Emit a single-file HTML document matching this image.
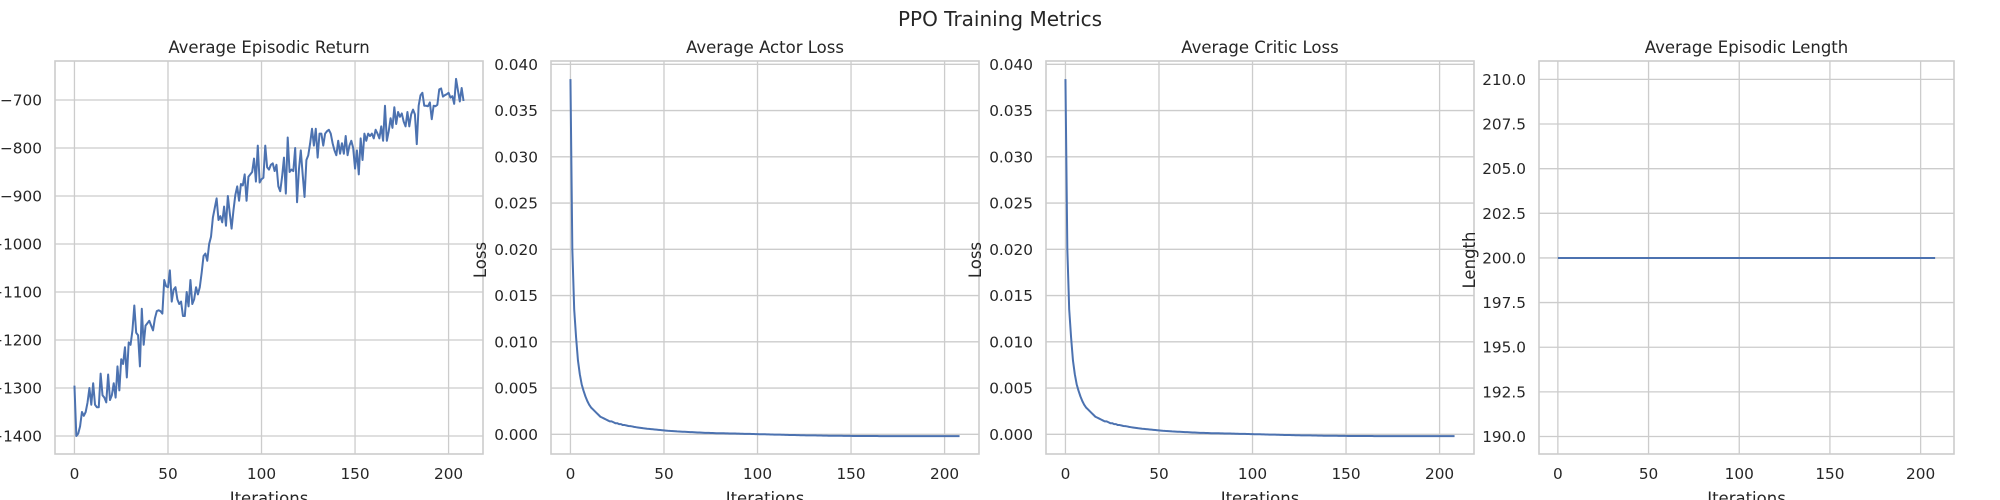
<!DOCTYPE html>
<html><head><meta charset="utf-8"><style>
html,body{margin:0;padding:0;background:#fff;}
svg{display:block;font-family:"DejaVu Sans","Liberation Sans",sans-serif;}
</style></head><body>
<svg id="fig" width="2000" height="500" viewBox="0 0 2000 500" xmlns="http://www.w3.org/2000/svg">
<rect x="0" y="0" width="2000" height="500" fill="#fff"/>
<text x="1000" y="26" text-anchor="middle" font-size="20" fill="#262626">PPO Training Metrics</text>
</svg>
<script>
const xTicks = [0, 50, 100, 150, 200];
const returnValues = [-1295,-1400,-1395,-1380,-1350,-1358,-1350,-1330,-1300,-1335,-1290,-1335,-1340,-1340,-1270,-1315,-1320,-1330,-1272,-1325,-1315,-1290,-1320,-1255,-1305,-1240,-1250,-1215,-1278,-1205,-1210,-1180,-1128,-1185,-1190,-1255,-1135,-1210,-1170,-1165,-1160,-1170,-1180,-1155,-1140,-1138,-1140,-1145,-1075,-1088,-1090,-1055,-1120,-1095,-1090,-1115,-1125,-1120,-1150,-1150,-1100,-1130,-1075,-1125,-1115,-1090,-1105,-1090,-1060,-1025,-1020,-1035,-1000,-985,-945,-925,-905,-950,-942,-955,-922,-962,-900,-935,-968,-930,-898,-880,-910,-875,-878,-855,-910,-860,-855,-850,-822,-870,-795,-872,-865,-862,-795,-840,-845,-835,-832,-848,-835,-880,-890,-860,-820,-895,-778,-850,-845,-848,-800,-913,-845,-805,-855,-902,-825,-815,-790,-760,-795,-760,-820,-770,-770,-795,-770,-765,-762,-770,-790,-805,-815,-785,-812,-790,-812,-775,-815,-795,-785,-800,-843,-805,-855,-780,-825,-770,-785,-770,-775,-770,-780,-762,-770,-780,-755,-785,-712,-785,-765,-738,-758,-715,-750,-725,-735,-728,-745,-755,-725,-755,-730,-720,-730,-792,-712,-690,-685,-712,-712,-713,-705,-740,-712,-713,-710,-678,-676,-693,-690,-688,-685,-695,-692,-708,-656,-680,-703,-675,-702];
const returnTicks = [-1400,-1300,-1200,-1100,-1000,-900,-800,-700];
const actorLossRaw = [0.0384,0.0200,0.0135,0.0105,0.0080,0.0065,0.0054,0.0047,0.0041,0.0036,0.0032,0.0029,0.0027,0.0025,0.0023,0.0021,0.0019,0.0018,0.0017,0.0016,0.0015,0.0014,0.0014,0.0013,0.0012,0.0012,0.0011,0.0011,0.0010,0.0010,0.00095,0.0009,0.00088,0.00085,0.0008,0.00077,0.00074,0.00071,0.00068,0.00065,0.00063,0.0006,0.00058,0.00056,0.00054,0.00052,0.0005,0.00048,0.00046,0.00044,0.00042,0.0004,0.00038,0.00037,0.00035,0.00034,0.00033,0.00031,0.0003,0.00029,0.00028,0.00027,0.00026,0.00025,0.00024,0.00023,0.00022,0.00021,0.0002,0.00019,0.00018,0.00017,0.00016,0.00016,0.00015,0.00014,0.00014,0.00013,0.00012,0.00012,0.00011,0.00012,0.00011,0.0001,0.0001,0.00009,0.00009,0.00008,0.00008,0.00007,0.00007,0.00006,0.00006,0.00005,0.00005,0.00004,0.00004,0.00003,0.00003,0.00002,0.00002,0.00001,0.00001,0,0,-0.00001,-0.00001,-0.00002,-0.00002,-0.00003,-0.00003,-0.00004,-0.00004,-0.00005,-0.00005,-0.00006,-0.00006,-0.00007,-0.00007,-0.00008,-0.00008,-0.00009,-0.00009,-0.0001,-0.0001,-0.0001,-0.00011,-0.00011,-0.00011,-0.00012,-0.00012,-0.00012,-0.00013,-0.00013,-0.00013,-0.00014,-0.00014,-0.00014,-0.00015,-0.00015,-0.00015,-0.00015,-0.00016,-0.00016,-0.00016,-0.00016,-0.00017,-0.00017,-0.00017,-0.00017,-0.00017,-0.00018,-0.00018,-0.00018,-0.00018,-0.00018,-0.00018,-0.00019,-0.00019,-0.00019,-0.00019,-0.00019,-0.00019,-0.00019,-0.00019,-0.0002,-0.0002,-0.0002,-0.0002,-0.0002,-0.0002,-0.0002,-0.0002,-0.0002,-0.0002,-0.0002,-0.0002,-0.0002,-0.0002,-0.0002,-0.0002,-0.0002,-0.0002,-0.0002,-0.0002,-0.0002,-0.0002,-0.0002,-0.0002,-0.0002,-0.0002,-0.0002,-0.0002,-0.0002,-0.0002,-0.0002,-0.0002,-0.0002,-0.0002,-0.0002,-0.0002,-0.0002,-0.0002,-0.0002,-0.0002,-0.0002,-0.0002,-0.0002,-0.0002,-0.0002,-0.0002,-0.0002,-0.0002,-0.0002,-0.0002,-0.0002];
const actorLoss = actorLossRaw.slice(0, 209);
const criticLoss = actorLoss.slice();
const lossTicks = [0.000,0.005,0.010,0.015,0.020,0.025,0.030,0.035,0.040];
const lengthValues = new Array(209).fill(200);
const lengthTicks = [190.0,192.5,195.0,197.5,200.0,202.5,205.0,207.5,210.0];

const NS = "http://www.w3.org/2000/svg";
const svg = document.getElementById('fig');
function mk(tag, attrs, parent) {
  const e = document.createElementNS(NS, tag);
  for (const k in attrs) e.setAttribute(k, attrs[k]);
  (parent || svg).appendChild(e);
  return e;
}
const TOP = 61, BOT = 454;
const panels = [
  {key:'return', title:'Average Episodic Return', L:55, R:483, yMin:-1437.5, yMax:-618.75, vals:returnValues, ticks:returnTicks, fmt:v=>String(v).replace('-', '\u2212'), ylabel:null},
  {key:'actor-loss', title:'Average Actor Loss', L:551, R:979, yMin:-0.00213, yMax:0.04036, vals:actorLoss, ticks:lossTicks, fmt:v=>v.toFixed(3), ylabel:'Loss', ylx:480},
  {key:'critic-loss', title:'Average Critic Loss', L:1046, R:1474, yMin:-0.00213, yMax:0.04036, vals:criticLoss, ticks:lossTicks, fmt:v=>v.toFixed(3), ylabel:'Loss', ylx:975},
  {key:'length', title:'Average Episodic Length', L:1539, R:1954, yMin:189.02, yMax:211.03, vals:lengthValues, ticks:lengthTicks, fmt:v=>v.toFixed(1), ylabel:'Length', ylx:1469}
];
const xMin = -10.4, xMax = 218.4;
panels.forEach(p => {
  const g = mk('g', {});
  
  
  const sx = v => p.L + (v - xMin) / (xMax - xMin) * (p.R - p.L);
  const sy = v => BOT - (v - p.yMin) / (p.yMax - p.yMin) * (BOT - TOP);
  p.ticks.forEach(t => {
    const y = sy(t);
    const ln = mk('line', {x1:p.L, x2:p.R, y1:y, y2:y, stroke:'#cccccc', 'stroke-width':1.3}, g);
    
    
    const tx = mk('text', {x:p.L - 13, y:y + 5.5, 'text-anchor':'end', 'font-size':15.3, fill:'#262626'}, g);
    
    
    tx.textContent = p.fmt(t);
  });
  xTicks.forEach(t => {
    const x = sx(t);
    const ln = mk('line', {x1:x, x2:x, y1:TOP, y2:BOT, stroke:'#cccccc', 'stroke-width':1.3}, g);
    
    
    const tx = mk('text', {x:x, y:479, 'text-anchor':'middle', 'font-size':15.3, fill:'#262626'}, g);
    
    
    tx.textContent = String(t);
  });
  const d = p.vals.map((v, i) => (i ? 'L' : 'M') + sx(i).toFixed(2) + ' ' + sy(v).toFixed(2)).join(' ');
  const path = mk('path', {d:d, fill:'none', stroke:'#4c72b0', 'stroke-width':2, 'stroke-linejoin':'round'}, g);
  
  
  const fr = mk('rect', {x:p.L, y:TOP, width:p.R - p.L, height:BOT - TOP, fill:'none', stroke:'#cccccc', 'stroke-width':1.6}, g);
  
  
  const ti = mk('text', {x:(p.L + p.R) / 2, y:53, 'text-anchor':'middle', 'font-size':16.5, fill:'#262626'}, g);
  
  
  ti.textContent = p.title;
  const xl = mk('text', {x:(p.L + p.R) / 2, y:504, 'text-anchor':'middle', 'font-size':16.5, fill:'#262626'}, g);
  
  
  xl.textContent = 'Iterations';
  if (p.ylabel) {
    const yl = mk('text', {x:p.ylx + 6, y:260, 'text-anchor':'middle', 'font-size':16.5, fill:'#262626', transform:'rotate(-90 ' + (p.ylx + 6) + ' 260)'}, g);
    
    
    yl.textContent = p.ylabel;
  }
});
</script>
</body></html>
